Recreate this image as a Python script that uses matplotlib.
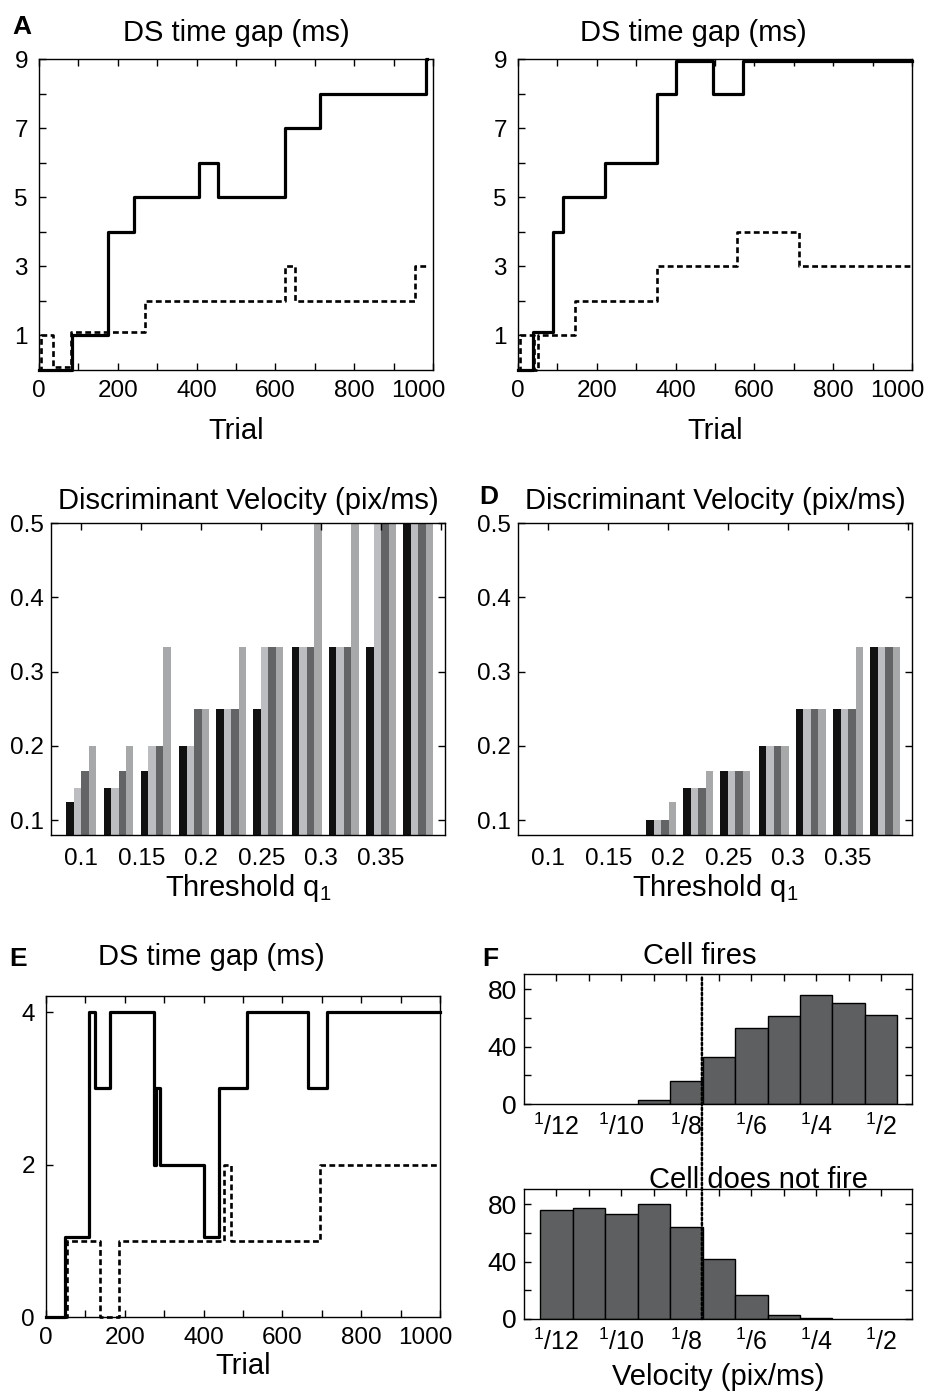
import matplotlib
matplotlib.use('Agg')
import matplotlib.pyplot as plt
from matplotlib.patches import ConnectionPatch
from matplotlib.transforms import ScaledTranslation

plt.rcParams['font.family'] = ['Liberation Sans', 'DejaVu Sans']
plt.rcParams['mathtext.fontset'] = 'custom'
plt.rcParams['mathtext.rm'] = 'Liberation Sans'
plt.rcParams['mathtext.it'] = 'Liberation Sans'
plt.rcParams['axes.linewidth'] = 1.0

# ---- data ----
# panel A: DS time gap vs trial (step changes)
a_solid_x = [0, 83, 175, 240, 405, 455, 625, 712, 982, 985]
a_solid_y = [0, 1, 4, 5, 6, 5, 7, 8, 9, 9]
a_dash_x = [0, 4, 35, 80, 270, 625, 650, 955, 990]
a_dash_y = [0, 1, 0.08, 1.1, 2, 3, 2, 3, 3]

# panel B
b_solid_x = [0, 38, 90, 113, 220, 352, 402, 495, 572, 1000]
b_solid_y = [0, 1.1, 4, 5, 6, 8, 8.93, 8, 8.93, 8.93]
b_dash_x = [0, 4, 40, 50, 145, 353, 555, 712, 1000]
b_dash_y = [0, 1, 0, 1, 2, 3, 4, 3, 3]

# panels C / D: discriminant velocity per threshold group, 4 series
q1_groups = [0.100, 0.131, 0.162, 0.194, 0.225, 0.256, 0.288, 0.319, 0.350, 0.381]
c_vals = [
    [1/8, 1/7, 1/6, 1/5, 1/4, 1/4, 1/3, 1/3, 1/3, 1/2],
    [1/7, 1/7, 1/5, 1/5, 1/4, 1/3, 1/3, 1/3, 1/2, 1/2],
    [1/6, 1/6, 1/5, 1/4, 1/4, 1/3, 1/3, 1/3, 1/2, 1/2],
    [1/5, 1/5, 1/3, 1/4, 1/3, 1/3, 1/2, 1/2, 1/2, 1/2],
]
d_vals = [
    [0, 0, 0, 1/10, 1/7, 1/6, 1/5, 1/4, 1/4, 1/3],
    [0, 0, 0, 1/10, 1/7, 1/6, 1/5, 1/4, 1/4, 1/3],
    [0, 0, 0, 1/10, 1/7, 1/6, 1/5, 1/4, 1/4, 1/3],
    [0, 0, 0, 1/8, 1/6, 1/6, 1/5, 1/4, 1/3, 1/3],
]
bar_colors = ['#111111', '#bcbdc0', '#636466', '#a7a8aa']
q1_ticks = [0.1, 0.15, 0.2, 0.25, 0.3, 0.35, 0.4]
q1_labels = ['0.1', '0.15', '0.2', '0.25', '0.3', '0.35', '']

# panel E
e_solid_x = [0, 48, 110, 125, 163, 275, 279, 290, 400, 440, 510, 665, 713, 1000]
e_solid_y = [0, 1.05, 4, 3, 4, 2, 3, 2, 1.05, 3, 4, 3, 4, 4]
e_dash_x = [0, 53, 138, 185, 453, 470, 695, 1000]
e_dash_y = [0, 1, 0, 1, 2, 1, 2, 2]

# panel F: velocity histograms
vel_labels = [r'$^{1}$/12', '', r'$^{1}$/10', '', r'$^{1}$/8', '', r'$^{1}$/6', '',
              r'$^{1}$/4', '', r'$^{1}$/2']
fires_bins = [3, 4, 5, 6, 7, 8, 9, 10]
fires_counts = [3, 16, 33, 53, 61, 76, 70, 62]
nofire_bins = [0, 1, 2, 3, 4, 5, 6, 7, 8]
nofire_counts = [76, 77, 73, 80, 64, 42, 17, 3, 1]
threshold_pos = 4.48

TITLE = 21
TICK = 17.5
W, H = 936, 1398
fig = plt.figure(figsize=(W / 100, H / 100), dpi=100)


def box(l, t, r, b):
    return [l / W, 1 - b / H, (r - l) / W, (b - t) / H]


def trial_axes(rect, ymax, yticks, ylabels):
    ax = fig.add_axes(rect)
    ax.set_xlim(0, 1000)
    ax.set_ylim(0, ymax)
    ax.set_xticks(range(0, 1001, 100))
    ax.set_xticklabels([str(v) if v % 200 == 0 else '' for v in range(0, 1001, 100)])
    ax.set_yticks(yticks)
    ax.set_yticklabels(ylabels)
    ax.tick_params(axis='x', direction='in', top=True, bottom=True, length=5, width=1,
                   labelsize=TICK, pad=7)
    ax.tick_params(axis='y', direction='in', left=True, right=False, length=5, width=1,
                   labelsize=TICK, pad=8)
    # the last label "1000" sits a bit left of its tick, as in the original
    last = ax.get_xticklabels()[-1]
    last.set_transform(last.get_transform() + ScaledTranslation(-0.15, 0, fig.dpi_scale_trans))
    return ax


def steps(ax, x, y, dashed=False):
    if dashed:
        ax.step(x, y, where='post', color='black', lw=1.9, linestyle=(0, (2.2, 1.3)),
                clip_on=False)
    else:
        ax.step(x, y, where='post', color='black', lw=2.3, clip_on=False)


# A
ax_a = trial_axes(box(39, 59, 433, 370), 9, range(1, 10),
                  ['1', '', '3', '', '5', '', '7', '', '9'])
steps(ax_a, a_dash_x, a_dash_y, dashed=True)
steps(ax_a, a_solid_x, a_solid_y)
ax_a.set_title('DS time gap (ms)', fontsize=TITLE, pad=13)
ax_a.set_xlabel('Trial', fontsize=TITLE, labelpad=11)

# B
ax_b = trial_axes(box(518, 59, 912, 370), 9, range(1, 10),
                  ['1', '', '3', '', '5', '', '7', '', '9'])
steps(ax_b, b_dash_x, b_dash_y, dashed=True)
steps(ax_b, b_solid_x, b_solid_y)
ax_b.set_title('DS time gap (ms)', fontsize=TITLE, pad=13, x=0.445)
ax_b.set_xlabel('Trial', fontsize=TITLE, labelpad=11)


def velocity_axes(rect, vals):
    ax = fig.add_axes(rect)
    w = 0.00625
    for k, series in enumerate(vals):
        xs = [g - 1.5 * w + k * w for g in q1_groups]
        ax.bar(xs, series, width=w, color=bar_colors[k], linewidth=0)
    ax.set_xlim(0.0747, 0.4033)
    ax.set_ylim(0.08, 0.5)
    ax.set_xticks(q1_ticks)
    ax.set_xticklabels(q1_labels)
    ax.set_yticks([0.1, 0.2, 0.3, 0.4, 0.5])
    ax.set_yticklabels(['0.1', '0.2', '0.3', '0.4', '0.5'])
    ax.tick_params(axis='x', direction='in', top=True, bottom=False, labelbottom=True,
                   length=5, width=1, labelsize=TICK, pad=9)
    ax.tick_params(axis='y', direction='in', left=True, right=True, length=5, width=1,
                   labelsize=TICK, pad=5)
    ax.set_title('Discriminant Velocity (pix/ms)', fontsize=TITLE, pad=10)
    ax.set_xlabel('Threshold q$_1$', fontsize=TITLE, labelpad=2)
    return ax


ax_c = velocity_axes(box(51, 523, 445, 835), c_vals)
ax_d = velocity_axes(box(518, 523, 912, 835), d_vals)

# E
ax_e = trial_axes(box(46, 996, 440, 1317), 4.21, [0, 2, 4], ['0', '2', '4'])
steps(ax_e, e_dash_x, e_dash_y, dashed=True)
steps(ax_e, e_solid_x, e_solid_y)
ax_e.set_title('DS time gap (ms)', fontsize=TITLE, pad=22, x=0.42)
ax_e.set_xlabel('Trial', fontsize=TITLE, labelpad=2)


# F
def hist_axes(rect, bins, counts, title, tx, tpad):
    ax = fig.add_axes(rect)
    ax.bar(bins, counts, width=1, color='#5e5f61', edgecolor='black', linewidth=1)
    ax.set_xlim(-1, 10.95)
    ax.set_ylim(0, 90.5)
    ax.set_xticks(range(11))
    ax.set_xticklabels(vel_labels)
    ax.set_yticks([0, 20, 40, 60, 80])
    ax.set_yticklabels(['0', '', '40', '', '80'])
    ax.tick_params(axis='x', direction='in', top=True, bottom=False, labelbottom=True,
                   length=5, width=1, labelsize=18, pad=7)
    ax.tick_params(axis='y', direction='in', left=True, right=True, length=5, width=1,
                   labelsize=19, pad=5)
    ax.set_title(title, fontsize=TITLE, pad=tpad, x=tx)
    return ax


ax_f1 = hist_axes(box(524, 974, 912, 1104), fires_bins, fires_counts, 'Cell fires', 0.453, 7)
ax_f2 = hist_axes(box(524, 1189, 912, 1319), nofire_bins, nofire_counts,
                  'Cell does not fire', 0.605, 0.5)
ax_f2.set_xlabel('Velocity (pix/ms)', fontsize=TITLE, labelpad=6)

con = ConnectionPatch(xyA=(threshold_pos, 88), coordsA=ax_f1.transData,
                      xyB=(threshold_pos, 0), coordsB=ax_f2.transData,
                      color='black', lw=1.8, linestyle=(0, (1, 1)))
fig.add_artist(con)

# panel letters
for letter, (px, py) in {'A': (12, 15), 'D': (479, 485), 'E': (9, 947), 'F': (482, 947)}.items():
    fig.text(px / W, 1 - py / H, letter, fontsize=19, fontweight='bold', va='top', ha='left')

fig.savefig('out.png', dpi=100)
